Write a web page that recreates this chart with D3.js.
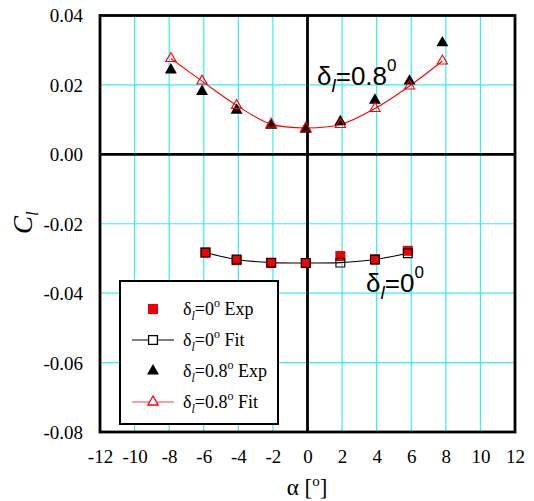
<!DOCTYPE html>
<html>
<head>
<meta charset="utf-8">
<script src="https://cdn.jsdelivr.net/npm/d3@7"></script>
<style>
  html, body { margin: 0; padding: 0; background: #fff; }
  svg { display: block; }
</style>
</head>
<body>
<svg id="chart" width="534" height="501"></svg>
<script>
// Angle of attack (deg) and roll coefficient for the two deflection cases
const alpha08 = [-7.9, -6.1, -4.1, -2.1, -0.1, 1.9, 3.9, 5.9, 7.8];
const cl08Exp = [0.0243, 0.0181, 0.0127, 0.0084, 0.0072, 0.0094, 0.0156, 0.0211, 0.0321];
const cl08Fit = [0.0276, 0.0211, 0.0141, 0.0087, 0.0076, 0.0086, 0.0132, 0.0197, 0.0269];

const alpha0 = [-5.9, -4.1, -2.1, -0.1, 1.9, 3.9, 5.8];
const cl0Exp = [-0.0283, -0.0305, -0.0313, -0.0313, -0.0293, -0.0303, -0.0278];
const cl0Fit = [-0.0283, -0.0303, -0.0312, -0.0313, -0.0312, -0.0303, -0.0285];

const xTicks = [-12, -10, -8, -6, -4, -2, 0, 2, 4, 6, 8, 10, 12];
const yTicks = [-0.08, -0.06, -0.04, -0.02, 0.00, 0.02, 0.04];

const SERIF = "'Liberation Serif', 'Times New Roman', Times, serif";
const SANS = "'Liberation Sans', Arial, Helvetica, sans-serif";

const svg = d3.select("#chart");
const plotL = 100, plotR = 515, plotT = 15.5, plotB = 432;

const x = d3.scaleLinear().domain([-12, 12]).range([plotL, plotR]);
const y = d3.scaleLinear().domain([-0.08, 0.04]).range([plotB, plotT]);

// grid
const grid = svg.append("g");
grid.selectAll("line.v").data(xTicks).join("line").attr("class", "v")
  .attr("x1", d => x(d)).attr("x2", d => x(d))
  .attr("y1", plotT).attr("y2", plotB)
  .attr("stroke", "#33f0f0").attr("stroke-width", 1.2);
grid.selectAll("line.h").data(yTicks).join("line").attr("class", "h")
  .attr("x1", plotL).attr("x2", plotR)
  .attr("y1", d => y(d)).attr("y2", d => y(d))
  .attr("stroke", "#33f0f0").attr("stroke-width", 1.2);

// zero axes
svg.append("line").attr("x1", x(0)).attr("x2", x(0)).attr("y1", plotT).attr("y2", plotB)
  .attr("stroke", "#000").attr("stroke-width", 2.8);
svg.append("line").attr("x1", plotL).attr("x2", plotR).attr("y1", y(0)).attr("y2", y(0))
  .attr("stroke", "#000").attr("stroke-width", 2.8);

// frame
svg.append("rect").attr("x", plotL).attr("y", plotT)
  .attr("width", plotR - plotL).attr("height", plotB - plotT)
  .attr("fill", "none").attr("stroke", "#000").attr("stroke-width", 2.8);

// axes (labels only), plain hyphen for negatives
const hyphen = f => d => f(d).replace("\u2212", "-");
const xAxis = d3.axisBottom(x).tickValues(xTicks).tickSize(0).tickPadding(0).tickFormat(hyphen(d3.format("d")));
const gx = svg.append("g").attr("transform", `translate(0,${plotB})`).call(xAxis)
  .attr("font-family", SERIF).attr("font-size", 19);
gx.select(".domain").remove();
gx.selectAll("text").style("font-family", SERIF).attr("fill", "#000")
  .attr("dy", null).attr("y", 31);

const yAxis = d3.axisLeft(y).tickValues(yTicks).tickSize(0).tickPadding(0).tickFormat(hyphen(d3.format(".2f")));
const gy = svg.append("g").attr("transform", `translate(83,0)`).call(yAxis)
  .attr("font-family", SERIF).attr("font-size", 19);
gy.select(".domain").remove();
gy.selectAll("text").style("font-family", SERIF).attr("fill", "#000")
  .attr("dy", "0.34em").attr("x", 0);

// axis titles
const xt = svg.append("text").style("font-family", SERIF).attr("x", 307).attr("y", 495)
  .attr("text-anchor", "middle").attr("font-size", 23);
xt.append("tspan").text("α [");
xt.append("tspan").attr("font-size", 15).attr("dy", -9).text("o");
xt.append("tspan").attr("dy", 9).text("]");

const yt = svg.append("text").style("font-family", SERIF)
  .attr("transform", "translate(32,234) rotate(-90)")
  .attr("font-size", 27).attr("font-style", "italic");
yt.append("tspan").text("C");
yt.append("tspan").attr("font-size", 17).attr("dy", 6).text("l");

// curves
const line = d3.line().x(d => x(d[0])).y(d => y(d[1])).curve(d3.curveCatmullRom);
const fit0 = alpha0.map((a, i) => [a, cl0Fit[i]]);
const fit08 = alpha08.map((a, i) => [a, cl08Fit[i]]);

svg.append("path").attr("d", line(fit0)).attr("fill", "none").attr("stroke", "#000").attr("stroke-width", 1.1);
svg.append("path").attr("d", line(fit08)).attr("fill", "none").attr("stroke", "#ff0000").attr("stroke-width", 1.1);

const sqBig = d3.symbol().type(d3.symbolSquare).size(100);
const sqSmall = d3.symbol().type(d3.symbolSquare).size(78);
const triBig = d3.symbol().type(d3.symbolTriangle).size(62);
const triSmall = d3.symbol().type(d3.symbolTriangle).size(46);

// experimental points
svg.append("g").selectAll("path").data(alpha0.map((a, i) => [a, cl0Exp[i]])).join("path")
  .attr("d", sqBig).attr("transform", d => `translate(${x(d[0])},${y(d[1])})`)
  .attr("fill", "#ee0000");
svg.append("g").selectAll("path").data(alpha08.map((a, i) => [a, cl08Exp[i]])).join("path")
  .attr("d", triBig).attr("transform", d => `translate(${x(d[0])},${y(d[1])})`)
  .attr("fill", "#000");

// fitted points
svg.append("g").selectAll("path").data(fit0).join("path")
  .attr("d", sqSmall).attr("transform", d => `translate(${x(d[0])},${y(d[1])})`)
  .attr("fill", "none").attr("stroke", "#000").attr("stroke-width", 1.1);
svg.append("g").selectAll("path").data(fit08).join("path")
  .attr("d", triSmall).attr("transform", d => `translate(${x(d[0])},${y(d[1])})`)
  .attr("fill", "none").attr("stroke", "#ff0000").attr("stroke-width", 1.1);

// in-plot annotations
function deltaLabel(px, py, value) {
  const t = svg.append("text").style("font-family", SANS).attr("x", px).attr("y", py).attr("font-size", 26);
  t.append("tspan").text("δ");
  t.append("tspan").attr("font-size", 19).attr("font-style", "italic").attr("dy", 7).text("l");
  t.append("tspan").attr("dy", -7).text("=" + value);
  t.append("tspan").attr("font-size", 17).attr("dy", -14).text("0");
}
deltaLabel(317, 85, "0.8");
deltaLabel(366, 292, "0");

// legend
const lg = svg.append("g");
lg.append("rect").attr("x", 120).attr("y", 281).attr("width", 158).attr("height", 143)
  .attr("fill", "#fff").attr("stroke", "#000").attr("stroke-width", 2);

const legendRows = [
  { label: "0", kind: "Exp", sym: sqBig, fill: "#ee0000", stroke: "none", line: null },
  { label: "0", kind: "Fit", sym: sqSmall, fill: "none", stroke: "#000", line: "#000" },
  { label: "0.8", kind: "Exp", sym: triBig, fill: "#000", stroke: "none", line: null },
  { label: "0.8", kind: "Fit", sym: triSmall, fill: "none", stroke: "#ff0000", line: "#ff4040" }
];
const rowY = [309, 340, 371, 402];
legendRows.forEach((r, i) => {
  const cy = rowY[i];
  if (r.line) {
    lg.append("line").attr("x1", 132).attr("x2", 174).attr("y1", cy).attr("y2", cy)
      .attr("stroke", r.line).attr("stroke-width", 1.2);
  }
  lg.append("path").attr("d", r.sym).attr("transform", `translate(153,${cy})`)
    .attr("fill", r.fill === "none" ? "#fff" : r.fill).attr("stroke", r.stroke).attr("stroke-width", 1.3);
  const t = lg.append("text").style("font-family", SERIF).attr("x", 183).attr("y", cy + 6).attr("font-size", 18);
  t.append("tspan").text("δ");
  t.append("tspan").attr("font-size", 12).attr("font-style", "italic").attr("dy", 5).text("l");
  t.append("tspan").attr("dy", -5).text("=" + r.label);
  t.append("tspan").attr("font-size", 12).attr("dy", -8).text("o");
  t.append("tspan").attr("dy", 8).text(" " + r.kind);
});
</script>
</body>
</html>
